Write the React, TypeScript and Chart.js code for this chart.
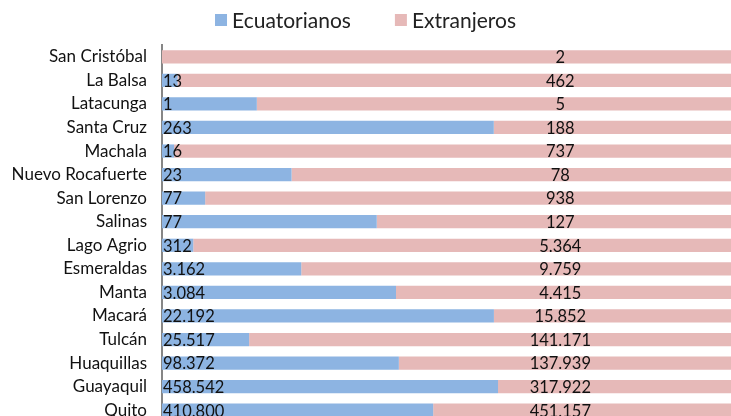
import React, { useEffect, useRef } from "react";
import { Chart, registerables } from "chart.js";
Chart.register(...registerables);

const categories = ["San Cristóbal", "La Balsa", "Latacunga", "Santa Cruz", "Machala", "Nuevo Rocafuerte", "San Lorenzo", "Salinas", "Lago Agrio", "Esmeraldas", "Manta", "Macará", "Tulcán", "Huaquillas", "Guayaquil", "Quito"];
const ecuatorianos = [0, 13, 1, 263, 16, 23, 77, 77, 312, 3162, 3084, 22192, 25517, 98372, 458542, 410800];
const extranjeros = [2, 462, 5, 188, 737, 78, 938, 127, 5364, 9759, 4415, 15852, 141171, 137939, 317922, 451157];
const seriesNames = ["Ecuatorianos", "Extranjeros"];
const seriesColors = ["#8DB4E2", "#E6B9B8"];
const extranjerosLabelPos = 70; // percent along the axis where the labels sit

const FONT = "Lato, 'Open Sans', sans-serif";

function fmt(n: number): string {
  return String(n).replace(/\B(?=(\d{3})+(?!\d))/g, ".");
}

const totals = categories.map((_, i) => ecuatorianos[i] + extranjeros[i]);
const pctEc = ecuatorianos.map((v, i) => (v / totals[i]) * 100);
const pctEx = extranjeros.map((v, i) => (v / totals[i]) * 100);
const rawSeries = [ecuatorianos, extranjeros];

const labelsPlugin = {
  id: "valueLabels",
  afterDatasetsDraw(chart: any) {
    const ctx = chart.ctx;
    const area = chart.chartArea;
    const xs = chart.scales.x;
    ctx.save();
    ctx.font = `16.5px ${FONT}`;
    ctx.fillStyle = "#111";
    ctx.textBaseline = "middle";
    chart.data.datasets.forEach((ds: any, di: number) => {
      const meta = chart.getDatasetMeta(di);
      meta.data.forEach((el: any, i: number) => {
        const v = rawSeries[di][i];
        if (!v) return;
        const y = el.y + 1;
        if (di === 0) {
          ctx.textAlign = "left";
          ctx.fillText(fmt(v), area.left + 1, y);
        } else {
          ctx.textAlign = "center";
          ctx.fillText(fmt(v), xs.getPixelForValue(extranjerosLabelPos), y);
        }
      });
    });
    ctx.restore();
  },
};

const legendPlugin = {
  id: "customLegend",
  afterDraw(chart: any) {
    const ctx = chart.ctx;
    ctx.save();
    ctx.font = `21px ${FONT}`;
    const box = 12;
    const gapText = 5;
    const gapItems = 44;
    const widths = seriesNames.map((s) => ctx.measureText(s).width);
    const total = widths.reduce((a, w) => a + box + gapText + w, 0) + gapItems * (seriesNames.length - 1);
    let x = chart.width / 2 - total / 2;
    const y = 20;
    ctx.textBaseline = "middle";
    ctx.textAlign = "left";
    seriesNames.forEach((s, i) => {
      ctx.fillStyle = seriesColors[i];
      ctx.fillRect(x, y - box / 2, box, box);
      x += box + gapText;
      ctx.fillStyle = "#222";
      ctx.fillText(s, x, y + 1);
      x += widths[i] + gapItems;
    });
    ctx.restore();
  },
};

export default function App() {
  const ref = useRef<HTMLCanvasElement | null>(null);
  useEffect(() => {
    document.body.style.margin = "0";
    document.documentElement.style.overflow = "hidden";
    document.body.style.overflow = "hidden";
    const chart = new Chart(ref.current as HTMLCanvasElement, {
      type: "bar",
      data: {
        labels: categories,
        datasets: [
          { label: seriesNames[0], data: pctEc, backgroundColor: seriesColors[0], borderWidth: 0 },
          { label: seriesNames[1], data: pctEx, backgroundColor: seriesColors[1], borderWidth: 0 },
        ],
      },
      options: {
        indexAxis: "y",
        animation: false,
        responsive: false,
        devicePixelRatio: 1,
        layout: { padding: { top: 45, left: 0, right: 0, bottom: 0 } },
        datasets: { bar: { categoryPercentage: 1, barPercentage: 0.56 } },
        plugins: { legend: { display: false }, tooltip: { enabled: false } },
        scales: {
          x: { stacked: true, min: 0, max: 100, display: false },
          y: {
            stacked: true,
            grid: { display: false, drawTicks: false },
            border: { display: true, color: "#868686", width: 2 },
            ticks: { color: "#111", font: { family: FONT, size: 17 }, padding: 15, autoSkip: false },
            afterFit: (scale: any) => {
              scale.width = 162;
              scale.paddingTop = 0;
              scale.paddingBottom = 0;
            },
          },
        },
      } as any,
      plugins: [labelsPlugin, legendPlugin],
    });
    return () => chart.destroy();
  }, []);
  return (
    <div style={{ width: 731, height: 416, overflow: "hidden" }}>
      <canvas ref={ref} width={731} height={422} style={{ display: "block" }} />
    </div>
  );
}
